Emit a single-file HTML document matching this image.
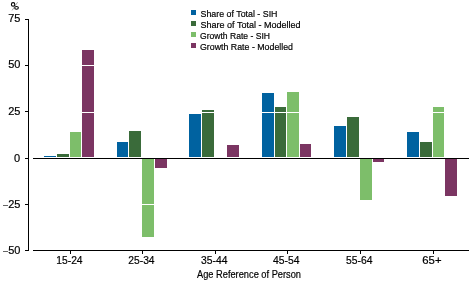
<!DOCTYPE html>
<html><head><meta charset="utf-8"><style>
html,body{margin:0;padding:0;background:#fff;width:472px;height:283px;overflow:hidden}
svg{display:block;will-change:transform}
text{font-family:"Liberation Sans",sans-serif;fill:#000;stroke:#000;stroke-width:0.2px}
</style></head><body>
<svg width="472" height="283" viewBox="0 0 472 283">
<rect x="44" y="156" width="12" height="1.00" fill="#0062a0"/>
<rect x="57" y="154" width="12" height="3.00" fill="#3a6b3a"/>
<rect x="70" y="132" width="11" height="25.00" fill="#7dbe6a"/>
<rect x="82" y="50" width="12" height="107.00" fill="#7b3562"/>
<rect x="117" y="142" width="11" height="15.00" fill="#0062a0"/>
<rect x="129" y="131" width="12" height="26.00" fill="#3a6b3a"/>
<rect x="142" y="159" width="12" height="78.00" fill="#7dbe6a"/>
<rect x="155" y="159" width="12" height="9.00" fill="#7b3562"/>
<rect x="189" y="114" width="12" height="43.00" fill="#0062a0"/>
<rect x="202" y="110" width="12" height="47.00" fill="#3a6b3a"/>
<rect x="227" y="145" width="12" height="12.00" fill="#7b3562"/>
<rect x="262" y="93" width="12" height="64.00" fill="#0062a0"/>
<rect x="275" y="107" width="11" height="50.00" fill="#3a6b3a"/>
<rect x="287" y="92" width="12" height="65.00" fill="#7dbe6a"/>
<rect x="300" y="144" width="11" height="13.00" fill="#7b3562"/>
<rect x="334" y="126" width="12" height="31.00" fill="#0062a0"/>
<rect x="347" y="117" width="12" height="40.00" fill="#3a6b3a"/>
<rect x="360" y="159" width="12" height="41.00" fill="#7dbe6a"/>
<rect x="373" y="159" width="11" height="3.00" fill="#7b3562"/>
<rect x="407" y="132" width="12" height="25.00" fill="#0062a0"/>
<rect x="420" y="142" width="12" height="15.00" fill="#3a6b3a"/>
<rect x="433" y="107" width="11" height="50.00" fill="#7dbe6a"/>
<rect x="445" y="159" width="12" height="37.00" fill="#7b3562"/>
<g fill="#fff">
<rect x="33" y="65" width="436" height="1"/>
<rect x="33" y="112" width="436" height="1"/>
<rect x="33" y="204" width="436" height="1"/>
</g>
<g stroke="#000" stroke-width="1" fill="none">
<path d="M28.5 19V251"/>
<path d="M25 19.5H29M25 65.5H29M25 111.5H29M25 158.5H29M25 204.5H29M25 250.5H29"/>
<path d="M33 158.5H469"/>
<path d="M33 250.5H469"/>
<path d="M70.5 250V254M142.5 250V254M215.5 250V254M287.5 250V254M360.5 250V254M433.5 250V254"/>
</g>
<g font-size="11" text-anchor="end">
<text x="20.5" y="22">75</text>
<text x="20.5" y="68">50</text>
<text x="20.5" y="115">25</text>
<text x="20" y="162">0</text>
<text x="20.5" y="208">25</text><rect x="3" y="205" width="5" height="1" fill="#666" stroke="none"/>
<text x="20.5" y="254">50</text><rect x="3" y="251" width="5" height="1" fill="#666" stroke="none"/>
</g>
<g fill="none" stroke="#000">
<ellipse cx="13.1" cy="4.4" rx="1.7" ry="1.75" stroke-width="1.1"/>
<ellipse cx="16.5" cy="7.85" rx="1.85" ry="1.4" stroke-width="1.1"/>
<path d="M17.6 2.2L12.1 10.4" stroke-width="0.7" stroke="#777"/>
</g>
<g font-size="11">
<text x="56.3" y="264" textLength="26.3" lengthAdjust="spacingAndGlyphs">15-24</text>
<text x="128.3" y="264" textLength="26.3" lengthAdjust="spacingAndGlyphs">25-34</text>
<text x="201" y="264" textLength="26.5" lengthAdjust="spacingAndGlyphs">35-44</text>
<text x="273.1" y="264" textLength="26.5" lengthAdjust="spacingAndGlyphs">45-54</text>
<text x="346.1" y="264" textLength="26.5" lengthAdjust="spacingAndGlyphs">55-64</text>
<text x="422.3" y="264" textLength="19.2" lengthAdjust="spacingAndGlyphs">65+</text>
</g>
<text x="197" y="277.5" font-size="11" textLength="104" lengthAdjust="spacingAndGlyphs">Age Reference of Person</text>
<g>
<rect x="191" y="10" width="5" height="5" fill="#0062a0"/>
<rect x="191" y="21" width="5" height="5" fill="#3a6b3a"/>
<rect x="191" y="32" width="5" height="5" fill="#7dbe6a"/>
<rect x="191" y="43" width="5" height="5" fill="#7b3562"/>
</g>
<g font-size="9.5">
<text x="200.5" y="16.6" textLength="77" lengthAdjust="spacingAndGlyphs">Share of Total - SIH</text>
<text x="200.5" y="27.6" textLength="100" lengthAdjust="spacingAndGlyphs">Share of Total - Modelled</text>
<text x="200" y="38.6" textLength="70" lengthAdjust="spacingAndGlyphs">Growth Rate - SIH</text>
<text x="200" y="49.6" textLength="93" lengthAdjust="spacingAndGlyphs">Growth Rate - Modelled</text>
</g>
</svg>
</body></html>
